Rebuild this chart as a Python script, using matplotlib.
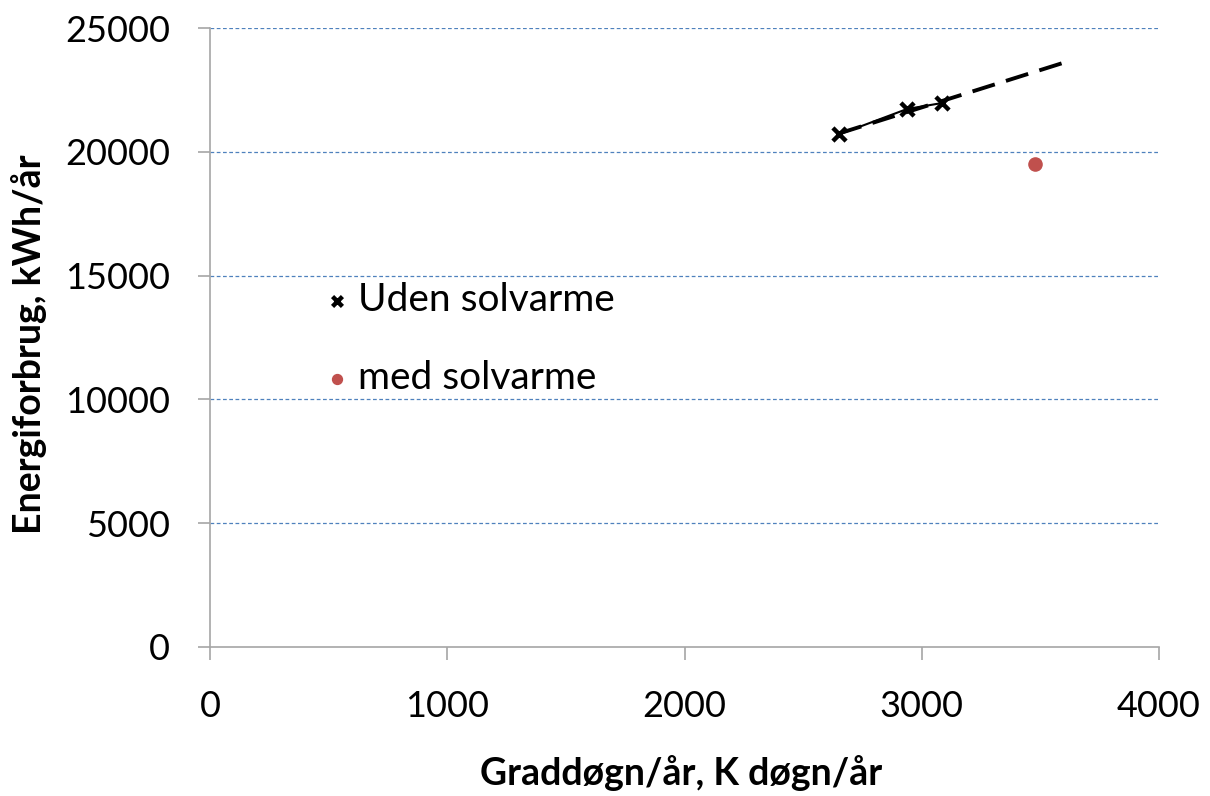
import matplotlib
matplotlib.use("Agg")
import matplotlib.pyplot as plt
import numpy as np

plt.rcParams['font.family'] = ['Lato', 'DejaVu Sans']

uden_x = [2651, 2938, 3085]
uden_y = [20700, 21730, 21970]
med_x = [3477]
med_y = [19500]
trend_end_x = 3600

x_ticks = [0, 1000, 2000, 3000, 4000]
y_ticks = [0, 5000, 10000, 15000, 20000, 25000]

fig = plt.figure(figsize=(12.1, 7.96), dpi=100)
ax = fig.add_axes([0.1736, 0.1872, 0.9579 - 0.1736, 0.9648 - 0.1872])

ax.set_xlim(0, 4000)
ax.set_ylim(0, 25000)
ax.set_xticks(x_ticks)
ax.set_yticks(y_ticks)

for y in y_ticks[1:]:
    ax.axhline(y, color='#4f81bd', lw=0.9, ls=(0, (3, 2)), zorder=1)

# trend line
coef = np.polyfit(uden_x, uden_y, 1)
tx = np.array([uden_x[0], trend_end_x])
ax.plot(tx, np.polyval(coef, tx), color='black', lw=2.8, ls=(0, (6, 3)), zorder=2)
ax.plot(uden_x, uden_y, color='black', lw=1.5, zorder=3)

ax.scatter(uden_x, uden_y, marker='x', s=90, color='black', linewidths=3.2, zorder=4,
           label='Uden solvarme')
ax.scatter(med_x, med_y, marker='o', s=90, color='#c0504d', zorder=4, label='med solvarme')

leg = ax.legend(loc='upper left', bbox_to_anchor=(0.080, 0.646), frameon=False,
                fontsize=28, handletextpad=0.16, labelspacing=1.07, markerscale=0.75,
                handlelength=0.8)

for s in ['top', 'right']:
    ax.spines[s].set_visible(False)
for s in ['left', 'bottom']:
    ax.spines[s].set_color('#a6a6a6')
    ax.spines[s].set_linewidth(1.2)

ax.tick_params(axis='both', direction='out', length=9, width=1.2, color='#a6a6a6',
               labelsize=26)
ax.tick_params(axis='y', pad=20)
ax.tick_params(axis='x', pad=22)

ax.set_xlabel('Graddøgn/år, K døgn/år', fontsize=27, fontweight='bold')
ax.set_ylabel('Energiforbrug, kWh/år', fontsize=27, fontweight='bold')
ax.xaxis.set_label_coords(0.496, -0.175)
ax.yaxis.set_label_coords(-0.172, 0.49)

fig.savefig('out.png', dpi=100)
